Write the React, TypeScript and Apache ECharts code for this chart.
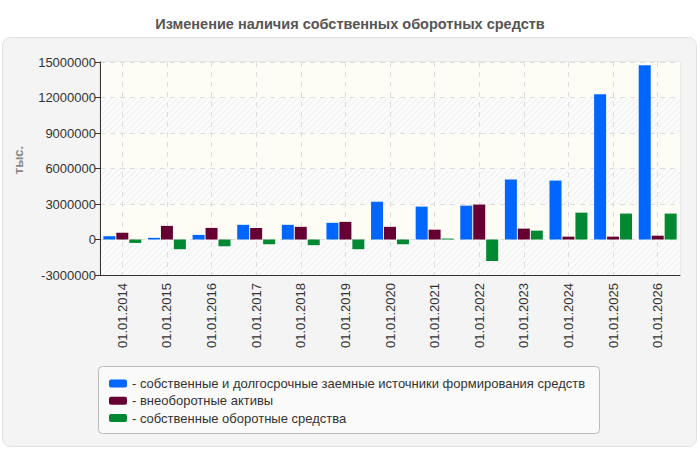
import React, { useEffect, useRef } from "react";
import * as echarts from "echarts";

const categories = [
  "01.01.2014", "01.01.2015", "01.01.2016", "01.01.2017", "01.01.2018", "01.01.2019", "01.01.2020",
  "01.01.2021", "01.01.2022", "01.01.2023", "01.01.2024", "01.01.2025", "01.01.2026",
];

const seriesNames = [
  "собственные и долгосрочные заемные источники формирования средств",
  "внеоборотные активы",
  "собственные оборотные средства",
];

const sourcesValues = [
  280000, 140000, 390000, 1240000, 1240000, 1410000, 3190000,
  2780000, 2860000, 5070000, 4980000, 12270000, 14730000,
];
const fixedAssetsValues = [
  560000, 1150000, 980000, 980000, 1070000, 1490000, 1070000,
  830000, 2950000, 920000, 240000, 240000, 320000,
];
const workingCapitalValues = [
  -290000, -820000, -570000, -400000, -480000, -820000, -400000,
  80000, -1820000, 750000, 2270000, 2190000, 2190000,
];

const seriesColors = ["#0066ff", "#660033", "#008833"];

const yMin = -3000000;
const yMax = 15000000;
const yStep = 3000000;

const FONT = "'Liberation Sans', Arial, sans-serif";

// diagonal hatch tile used for every other horizontal band
const hatchSvg =
  "data:image/svg+xml;charset=utf-8," +
  encodeURIComponent(
    '<svg xmlns="http://www.w3.org/2000/svg" width="6" height="6">' +
      '<rect width="6" height="6" fill="#fbfbfb"/>' +
      '<path d="M-1,7 L7,-1 M-1,1 L1,-1 M5,7 L7,5" stroke="#ececec" stroke-width="1"/>' +
      "</svg>"
  );

export default function App() {
  const ref = useRef<HTMLDivElement>(null);

  useEffect(() => {
    if (!ref.current) return;
    const chart = echarts.init(ref.current, undefined, { renderer: "svg" });
    const values = [sourcesValues, fixedAssetsValues, workingCapitalValues];

    chart.setOption({
      animation: false,
      backgroundColor: "#ffffff",
      textStyle: { fontFamily: FONT },
      title: {
        text: "Изменение наличия собственных оборотных средств",
        left: "center",
        top: 11,
        textStyle: { fontFamily: FONT, fontSize: 14.5, fontWeight: "bold", color: "#555555" },
      },
      graphic: [
        {
          type: "rect",
          z: -10,
          silent: true,
          shape: { x: 2.5, y: 37.5, width: 694, height: 409, r: 8 },
          style: { fill: "#f4f4f4", stroke: "#e2e2e2", lineWidth: 1 },
        },
        {
          type: "rect",
          z: -5,
          silent: true,
          shape: { x: 98.5, y: 366.5, width: 501, height: 67, r: 4 },
          style: { fill: "#fafafa", stroke: "#bbbbbb", lineWidth: 1 },
        },
        {
          type: "text",
          x: 18,
          y: 160,
          rotation: Math.PI / 2,
          style: {
            text: "тыс.",
            fontFamily: FONT,
            fontSize: 13,
            fontWeight: "bold",
            fill: "#888888",
            align: "center",
            verticalAlign: "middle",
          },
        },
      ],
      legend: {
        orient: "vertical",
        left: 109,
        top: 376,
        padding: 0,
        itemWidth: 18,
        itemHeight: 8,
        itemGap: 2.3,
        icon: "roundRect",
        data: seriesNames,
        formatter: (name: string) => "- " + name,
        textStyle: { fontFamily: FONT, fontSize: 13, color: "#333333", lineHeight: 15 },
      },
      grid: {
        left: 100,
        right: 20,
        top: 62,
        bottom: 175,
        show: true,
        backgroundColor: "#fdfdf6",
        borderColor: "#dddddd",
        borderWidth: 1,
      },
      xAxis: {
        type: "category",
        data: categories,
        boundaryGap: true,
        axisLine: { onZero: false, lineStyle: { color: "#333333", width: 1 } },
        axisTick: { alignWithLabel: true, length: 5, lineStyle: { color: "#333333" } },
        axisLabel: {
          rotate: 90,
          interval: 0,
          margin: 8,
          fontFamily: FONT,
          fontSize: 13,
          color: "#333333",
        },
        splitLine: {
          show: true,
          alignWithLabel: true,
          lineStyle: { color: "#dddddd", type: [5, 5], width: 1 },
        } as any,
      },
      yAxis: {
        type: "value",
        min: yMin,
        max: yMax,
        interval: yStep,
        axisLine: { show: true, lineStyle: { color: "#333333", width: 1 } },
        axisTick: { show: true, length: 5, lineStyle: { color: "#333333" } },
        axisLabel: {
          fontFamily: FONT,
          fontSize: 13,
          color: "#333333",
          margin: 4,
          formatter: (v: number) => String(v),
        },
        splitLine: { lineStyle: { color: "#dddddd", type: [5, 5], width: 1 } },
        splitArea: {
          show: true,
          areaStyle: {
            color: [{ image: hatchSvg, repeat: "repeat" } as any, "#fdfdf6"],
          },
        },
      },
      series: seriesNames.map((name, i) => ({
        name,
        type: "bar",
        data: values[i],
        barWidth: 12,
        barGap: "8%",
        z: 3,
        itemStyle: { color: seriesColors[i] },
      })),
    });

    return () => chart.dispose();
  }, []);

  return (
    <div
      ref={ref}
      style={{ position: "fixed", left: 0, top: 0, width: 700, height: 450 }}
    />
  );
}
